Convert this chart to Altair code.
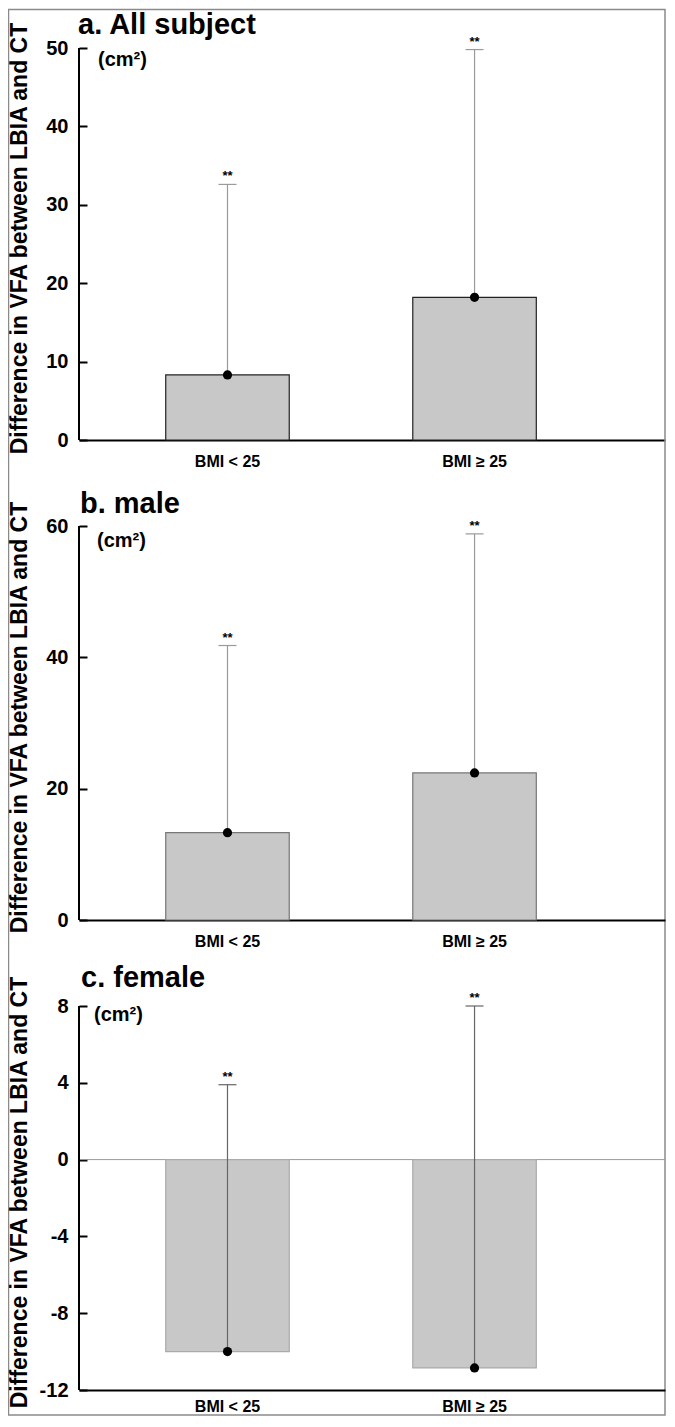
import altair as alt
import pandas as pd

# ---- data ----
groups = ["BMI < 25", "BMI ≥ 25"]
stars = ["**", "**"]

mean_all = [8.3, 18.2]
upper_all = [32.6, 49.8]

mean_male = [13.3, 22.4]
upper_male = [41.8, 58.8]

mean_female = [-10.0, -10.85]
upper_female = [3.9, 8.0]

panel_titles = ["a. All subject", "b. male", "c. female"]
domains = [[0, 50], [0, 60], [-12, 8]]
tick_values = [[0, 10, 20, 30, 40, 50], [0, 20, 40, 60], [-12, -8, -4, 0, 4, 8]]
unit_label = "(cm²)"
y_title = "Difference in VFA between LBIA and CT"

FONT = "Liberation Sans"
W = 586


def panel(title, means, uppers, domain, ticks, height, bar_stroke, err_color,
          title_dx, title_offset, unit_x, unit_y, zero_line=False, border=False,
          xlabel_pad=13):
    df = pd.DataFrame({"group": groups, "mean": means, "upper": uppers, "star": stars})
    one = pd.DataFrame({"u": [unit_label], "t": [title]})

    xenc = alt.X(
        "group:N", sort=groups,
        scale=alt.Scale(type="band", paddingInner=0.5, paddingOuter=0.436, align=0.4026),
        axis=alt.Axis(title=None, labelAngle=0, ticks=False, domainColor="black",
                      domainWidth=2, labelFont=FONT, labelFontSize=16,
                      labelFontWeight="bold", labelColor="black", labelPadding=xlabel_pad),
    )
    yscale = alt.Scale(domain=domain, nice=False, zero=False)
    yaxis = alt.Axis(
        values=ticks, title=y_title, domain=False, grid=False, offset=-8,
        tickSize=8, tickWidth=2, tickColor="black",
        labelFont=FONT, labelFontSize=20, labelFontWeight="bold", labelColor="black",
        labelPadding=11, labelExpr="toString(datum.value)",
        titleFont=FONT, titleFontSize=23, titleFontWeight="bold", titleColor="black",
        titleX=-68, titleY=height / 2 - 6, titleAngle=270, titleAlign="center",
        titleBaseline="middle",
    )

    base = alt.Chart(df)
    layers = []
    if border:
        layers.append(
            alt.Chart(one).mark_rect(fillOpacity=0, stroke="#8a8a8a", strokeWidth=1.5).encode(
                x=alt.value(-70.5), x2=alt.value(W), y=alt.value(-38.5), y2=alt.value(1367)
            )
        )
    if zero_line:
        layers.append(
            alt.Chart(one).mark_rule(color="#9a9a9a", strokeWidth=1).encode(
                y=alt.Y("z:Q", scale=yscale, axis=yaxis),
                x=alt.value(0), x2=alt.value(W)
            ).transform_calculate(z="0")
        )
    bars = base.mark_bar(color="#c8c8c8", stroke=bar_stroke, strokeWidth=1.2).encode(
        x=xenc, y=alt.Y("mean:Q", scale=yscale, axis=yaxis), y2=alt.datum(0)
    )
    err = base.mark_rule(color=err_color, strokeWidth=1.2).encode(
        x=xenc, y=alt.Y("mean:Q", scale=yscale, axis=yaxis), y2="upper:Q"
    )
    cap = base.mark_tick(orient="horizontal", size=18, thickness=1.2, color=err_color, opacity=1).encode(
        x=xenc, y=alt.Y("upper:Q", scale=yscale, axis=yaxis)
    )
    dot = base.mark_circle(size=85, color="black", opacity=1).encode(
        x=xenc, y=alt.Y("mean:Q", scale=yscale, axis=yaxis)
    )
    star = base.mark_text(fontSize=13, fontWeight="bold", color="black", baseline="alphabetic", dy=-4, font=FONT).encode(
        x=xenc, y=alt.Y("upper:Q", scale=yscale, axis=yaxis), text="star:N"
    )
    ydom = base.mark_rule(color="black", strokeWidth=2).encode(
        x=alt.value(0), y=alt.value(0), y2=alt.value(height)
    )
    unit = alt.Chart(one).mark_text(
        font=FONT, fontSize=20, fontWeight="bold", color="black", align="left", baseline="middle"
    ).encode(text="u:N", x=alt.value(unit_x), y=alt.value(unit_y))
    ttl = alt.Chart(one).mark_text(
        font=FONT, fontSize=29, fontWeight="bold", color="black", align="left", baseline="alphabetic"
    ).encode(text="t:N", x=alt.value(title_dx), y=alt.value(-title_offset))

    layers += [bars, err, cap, dot, star, ydom, unit, ttl]
    return alt.layer(*layers).properties(width=W, height=height)


pa = panel(panel_titles[0], mean_all, upper_all, domains[0], tick_values[0], 392,
           "#222222", "#9a9a9a", -1, 14, 19, 12, border=True)
pb = panel(panel_titles[1], mean_male, upper_male, domains[1], tick_values[1], 394,
           "#777777", "#9a9a9a", 1, 13, 18, 15)
pc = panel(panel_titles[2], mean_female, upper_female, domains[2], tick_values[2], 384,
           "#aaaaaa", "#666666", 2, 19, 15, 9, zero_line=True, xlabel_pad=8)

chart = alt.vconcat(
    pa, pb, pc, spacing=86, bounds="flush",
    padding={"top": 0, "left": -1, "bottom": 0, "right": 0},
).configure_view(stroke=None)

chart.save("out.html", embed_options={"renderer": "svg", "actions": False})
